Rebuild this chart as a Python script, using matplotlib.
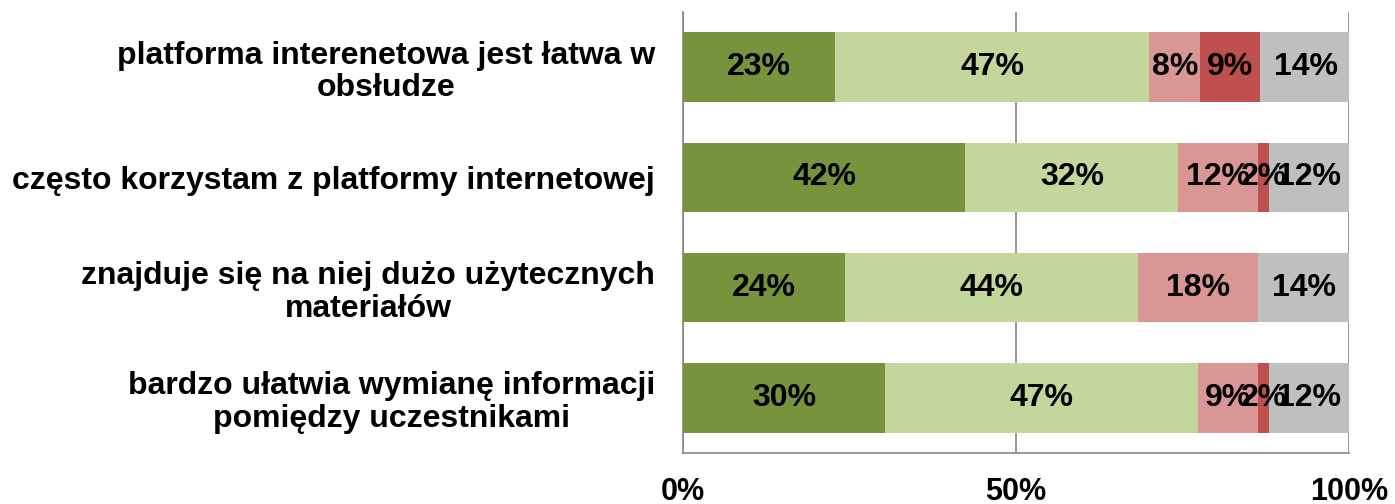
import numpy as np
import matplotlib.pyplot as plt

plt.rcParams['font.family'] = ['Liberation Sans', 'DejaVu Sans']

categories = [
    "platforma interenetowa jest łatwa w\nobsłudze",
    "często korzystam z platformy internetowej",
    "znajduje się na niej dużo użytecznych\nmateriałów",
    "bardzo ułatwia wymianę informacji\npomiędzy uczestnikami",
]
# shares per answer group (%)
v1 = [22.9, 42.4, 24.4, 30.4]
v2 = [47.1, 32.0, 43.9, 46.9]
v3 = [7.7, 12.0, 18.1, 9.1]
v4 = [9.0, 1.6, 0.0, 1.6]
v5 = [13.6, 12.0, 13.6, 12.0]
series = [v1, v2, v3, v4, v5]
colors = ['#77933C', '#C3D69B', '#D99694', '#C0504D', '#BFBFBF']

fig = plt.figure(figsize=(13.95, 5.04), dpi=100)
ax = fig.add_axes([0.4896, 0.101, 0.4774, 0.875])

y = np.arange(len(categories))
left = np.zeros(len(categories))
for vals, col in zip(series, colors):
    vals = np.array(vals)
    ax.barh(y, vals, left=left, height=0.63, color=col, zorder=3)
    for yi, l, v in zip(y, left, vals):
        if v > 0:
            ax.text(l + v / 2, yi, f"{v:.0f}%", ha='center', va='center',
                    fontsize=23, fontweight='bold', zorder=4)
    left += vals

ax.set_xlim(0, 100)
ax.set_ylim(len(categories) - 0.5, -0.5)
ax.set_xticks([0, 50, 100])
ax.set_xticklabels(['0%', '50%', '100%'])
ax.set_yticks(y)
ax.set_yticklabels(categories, ha='right', multialignment='center', linespacing=1.1)
ax.tick_params(axis='x', length=0, labelsize=22, pad=17)
ax.tick_params(axis='y', length=0, labelsize=23, pad=20)
for lab in ax.get_xticklabels() + ax.get_yticklabels():
    lab.set_fontweight('bold')

ax.grid(axis='x', color='#868686', linewidth=1.2, zorder=0)
for s in ['top', 'right']:
    ax.spines[s].set_visible(False)
for s in ['left', 'bottom']:
    ax.spines[s].set_color('#868686')
    ax.spines[s].set_linewidth(1.2)

fig.savefig('out.png', dpi=100)
